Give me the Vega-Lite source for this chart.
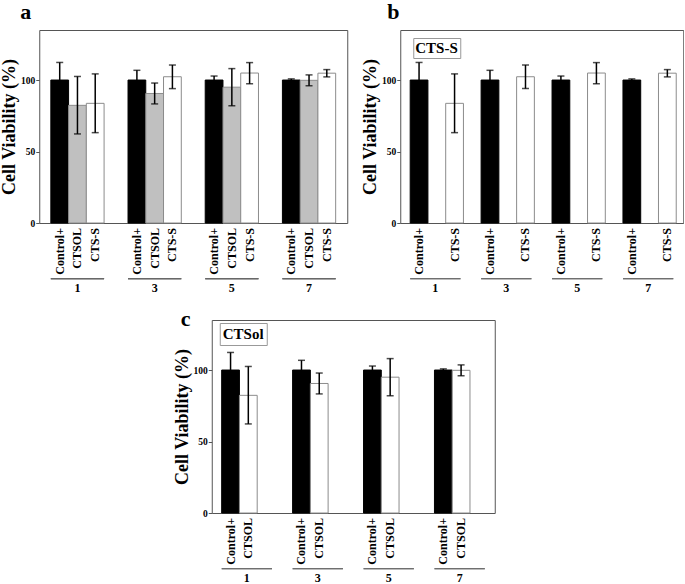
{
  "$schema": "https://vega.github.io/schema/vega-lite/v6.json",
  "padding": {"left": 0, "top": 0, "right": 0, "bottom": 0},
  "background": "white",
  "config": {
    "font": "Liberation Serif",
    "view": {"stroke": "#555555", "strokeWidth": 1},
    "axisY": {
      "tickColor": "#555555",
      "domain": false,
      "grid": false,
      "labelFont": "Liberation Serif",
      "labelFontWeight": "bold",
      "labelFontSize": 9.5,
      "labelColor": "black",
      "labelPadding": 1,
      "titleFont": "Liberation Serif",
      "titleFontWeight": "bold",
      "titleFontSize": 18,
      "titleColor": "black",
      "titlePadding": 2
    },
    "axisX": {
      "domain": false,
      "ticks": false,
      "grid": false,
      "labelAngle": 0,
      "labelFont": "Liberation Serif",
      "labelFontWeight": "bold",
      "labelFontSize": 12,
      "labelColor": "black",
      "labelPadding": 59,
      "title": null
    },
    "title": {"font": "Liberation Serif", "fontWeight": "bold", "fontSize": 22, "color": "black", "anchor": "start", "frame": "group"}
  },
  "datasets": {
    "cv": [
      {"group": "1", "series": "Control+", "mean": 100, "lower": 87.7, "upper": 112.3},
      {"group": "1", "series": "CTSOL", "mean": 82.3, "lower": 62.3, "upper": 102.5},
      {"group": "1", "series": "CTS-S", "mean": 83.7, "lower": 63.2, "upper": 104.3},
      {"group": "3", "series": "Control+", "mean": 100, "lower": 93.2, "upper": 106.8},
      {"group": "3", "series": "CTSOL", "mean": 90.6, "lower": 83.3, "upper": 97.9},
      {"group": "3", "series": "CTS-S", "mean": 102.3, "lower": 94.0, "upper": 110.5},
      {"group": "5", "series": "Control+", "mean": 100, "lower": 97.2, "upper": 102.8},
      {"group": "5", "series": "CTSOL", "mean": 95.0, "lower": 82.0, "upper": 108.0},
      {"group": "5", "series": "CTS-S", "mean": 104.9, "lower": 97.4, "upper": 112.2},
      {"group": "7", "series": "Control+", "mean": 100, "lower": 99.2, "upper": 100.8},
      {"group": "7", "series": "CTSOL", "mean": 99.8, "lower": 96.0, "upper": 103.6},
      {"group": "7", "series": "CTS-S", "mean": 104.8, "lower": 102.2, "upper": 107.3}
    ]
  },
  "vconcat": [
    {
      "hconcat": [
        {
          "width": 308,
          "height": 193,
          "title": {"text": "a", "dx": -19, "offset": 6},
          "data": {"name": "cv"},
          "encoding": {
            "x": {"field": "group", "type": "nominal", "scale": {"domain": ["1", "3", "5", "7"], "paddingInner": 0.31, "paddingOuter": 0.15}, "axis": {}},
            "xOffset": {"field": "series", "type": "nominal", "scale": {"domain": ["Control+", "CTSOL", "CTS-S"], "paddingInner": 0, "paddingOuter": 0}}
          },
          "layer": [
            {
              "mark": {"type": "bar", "strokeWidth": 1},
              "encoding": {
                "y": {"field": "mean", "type": "quantitative", "scale": {"domain": [0, 135], "nice": false}, "axis": {"title": "Cell Viability (%)", "values": [0, 25, 50, 75, 100, 125], "labelExpr": "(datum.value == 25 || datum.value == 75 || datum.value == 125) ? '' : datum.label", "labelOverlap": false, "tickSize": {"condition": {"test": "datum.value == 0 || datum.value == 50 || datum.value == 100", "value": 3.5}, "value": 2.5}}},
                "fill": {"field": "series", "type": "nominal", "scale": {"domain": ["Control+", "CTSOL", "CTS-S"], "range": ["#000000", "#c0c0c0", "#ffffff"]}, "legend": null},
                "stroke": {"field": "series", "type": "nominal", "scale": {"domain": ["Control+", "CTSOL", "CTS-S"], "range": ["#000000", "#8c8c8c", "#8c8c8c"]}, "legend": null}
              }
            },
            {
              "mark": {"type": "rule", "color": "black", "strokeWidth": 1.5},
              "encoding": {"y": {"field": "lower", "type": "quantitative"}, "y2": {"field": "upper"}}
            },
            {
              "mark": {"type": "tick", "color": "black", "thickness": 1.5, "size": 7},
              "encoding": {"y": {"field": "upper", "type": "quantitative"}}
            },
            {
              "mark": {"type": "tick", "color": "black", "thickness": 1.5, "size": 7},
              "encoding": {"y": {"field": "lower", "type": "quantitative"}}
            },
            {
              "mark": {"type": "text", "angle": 270, "align": "right", "baseline": "middle", "dx": -5, "font": "Liberation Serif", "fontWeight": "bold", "fontSize": 12, "color": "black"},
              "encoding": {"y": {"datum": 0}, "text": {"field": "series"}}
            },
            {
              "mark": {"type": "bar", "color": "#666666"},
              "encoding": {"xOffset": null, "y": {"datum": -38.6}, "y2": {"datum": -39.3}}
            }
          ]
        },
        {
          "width": 283,
          "height": 193,
          "title": {"text": "b", "dx": -13, "offset": 6},
          "data": {"name": "cv"},
          "transform": [{"filter": {"field": "series", "oneOf": ["Control+", "CTS-S"]}}],
          "encoding": {
            "x": {"field": "group", "type": "nominal", "scale": {"domain": ["1", "3", "5", "7"], "paddingInner": 0.29, "paddingOuter": 0.14}, "axis": {}},
            "xOffset": {"field": "series", "type": "nominal", "scale": {"domain": ["Control+", "CTS-S"], "paddingInner": 0, "paddingOuter": 0}}
          },
          "layer": [
            {
              "mark": {"type": "bar", "strokeWidth": 1},
              "encoding": {
                "y": {"field": "mean", "type": "quantitative", "scale": {"domain": [0, 135], "nice": false}, "axis": {"title": "Cell Viability (%)", "values": [0, 25, 50, 75, 100, 125], "labelExpr": "(datum.value == 25 || datum.value == 75 || datum.value == 125) ? '' : datum.label", "labelOverlap": false, "tickSize": {"condition": {"test": "datum.value == 0 || datum.value == 50 || datum.value == 100", "value": 3.5}, "value": 2.5}}},
                "fill": {"field": "series", "type": "nominal", "scale": {"domain": ["Control+", "CTS-S"], "range": ["#000000", "#ffffff"]}, "legend": null},
                "stroke": {"field": "series", "type": "nominal", "scale": {"domain": ["Control+", "CTS-S"], "range": ["#000000", "#8c8c8c"]}, "legend": null}
              }
            },
            {
              "mark": {"type": "rule", "color": "black", "strokeWidth": 1.5},
              "encoding": {"y": {"field": "lower", "type": "quantitative"}, "y2": {"field": "upper"}}
            },
            {
              "mark": {"type": "tick", "color": "black", "thickness": 1.5, "size": 7},
              "encoding": {"y": {"field": "upper", "type": "quantitative"}}
            },
            {
              "mark": {"type": "tick", "color": "black", "thickness": 1.5, "size": 7},
              "encoding": {"y": {"field": "lower", "type": "quantitative"}}
            },
            {
              "mark": {"type": "text", "angle": 270, "align": "right", "baseline": "middle", "dx": -5, "font": "Liberation Serif", "fontWeight": "bold", "fontSize": 12, "color": "black"},
              "encoding": {"y": {"datum": 0}, "text": {"field": "series"}}
            },
            {
              "mark": {"type": "bar", "color": "#666666"},
              "encoding": {"xOffset": null, "y": {"datum": -38.6}, "y2": {"datum": -39.3}}
            },
            {
              "mark": {"type": "point", "opacity": 0, "size": 0},
              "encoding": {
                "xOffset": null,
                "shape": {"datum": "CTS-S", "legend": {"title": null, "orient": "none", "legendX": 13, "legendY": 8, "padding": 2, "strokeColor": "#999999", "fillColor": "#ffffff", "symbolSize": 0, "symbolOpacity": 0, "symbolStrokeWidth": 0, "labelOffset": -15, "labelFont": "Liberation Serif", "labelFontWeight": "bold", "labelFontSize": 15, "labelColor": "black"}}
              }
            }
          ]
        }
      ],
      "spacing": 12,
      "resolve": {"scale": {"fill": "independent", "stroke": "independent", "shape": "independent"}, "legend": {"shape": "independent"}}
    },
    {
      "width": 283,
      "height": 193,
      "title": {"text": "c", "dx": -31, "offset": 0, "dy": 11},
      "data": {"name": "cv"},
      "transform": [{"filter": {"field": "series", "oneOf": ["Control+", "CTSOL"]}}],
      "encoding": {
        "x": {"field": "group", "type": "nominal", "scale": {"domain": ["1", "3", "5", "7"], "paddingInner": 0.29, "paddingOuter": 0.14}, "axis": {}},
        "xOffset": {"field": "series", "type": "nominal", "scale": {"domain": ["Control+", "CTSOL"], "paddingInner": 0, "paddingOuter": 0}}
      },
      "layer": [
        {
          "layer": [
            {
              "mark": {"type": "bar", "strokeWidth": 1},
              "encoding": {
                "y": {"field": "mean", "type": "quantitative", "scale": {"domain": [0, 135], "nice": false}, "axis": {"title": "Cell Viability (%)", "values": [0, 25, 50, 75, 100, 125], "labelExpr": "(datum.value == 25 || datum.value == 75 || datum.value == 125) ? '' : datum.label", "labelOverlap": false, "tickSize": {"condition": {"test": "datum.value == 0 || datum.value == 50 || datum.value == 100", "value": 3.5}, "value": 2.5}}},
                "fill": {"field": "series", "type": "nominal", "scale": {"domain": ["Control+", "CTSOL"], "range": ["#000000", "#ffffff"]}, "legend": null},
                "stroke": {"field": "series", "type": "nominal", "scale": {"domain": ["Control+", "CTSOL"], "range": ["#000000", "#8c8c8c"]}, "legend": null}
              }
            },
            {
              "mark": {"type": "rule", "color": "black", "strokeWidth": 1.5},
              "encoding": {"y": {"field": "lower", "type": "quantitative"}, "y2": {"field": "upper"}}
            },
            {
              "mark": {"type": "tick", "color": "black", "thickness": 1.5, "size": 7},
              "encoding": {"y": {"field": "upper", "type": "quantitative"}}
            },
            {
              "mark": {"type": "tick", "color": "black", "thickness": 1.5, "size": 7},
              "encoding": {"y": {"field": "lower", "type": "quantitative"}}
            },
            {
              "mark": {"type": "text", "angle": 270, "align": "right", "baseline": "middle", "dx": -5, "font": "Liberation Serif", "fontWeight": "bold", "fontSize": 12, "color": "black"},
              "encoding": {"y": {"datum": 0}, "text": {"field": "series"}}
            },
            {
              "mark": {"type": "bar", "color": "#666666"},
              "encoding": {"xOffset": null, "y": {"datum": -38.6}, "y2": {"datum": -39.3}}
            }
          ]
        },
        {
          "mark": {"type": "point", "opacity": 0, "size": 0},
          "encoding": {
            "xOffset": null,
            "y": {"datum": 0, "type": "quantitative", "scale": {"domain": [0, 135], "nice": false}, "axis": {"orient": "right", "labels": false, "ticks": false, "domain": false, "grid": false, "title": null, "minExtent": 16, "maxExtent": 16}},
            "shape": {"datum": "CTSol", "legend": {"title": null, "orient": "none", "legendX": 8, "legendY": 3, "padding": 3, "strokeColor": "#999999", "fillColor": "#ffffff", "symbolSize": 0, "symbolOpacity": 0, "symbolStrokeWidth": 0, "labelOffset": -15, "labelFont": "Liberation Serif", "labelFontWeight": "bold", "labelFontSize": 15, "labelColor": "black"}}
          }
        }
      ],
      "resolve": {"scale": {"y": "independent"}}
    }
  ],
  "spacing": 13,
  "center": true,
  "resolve": {"scale": {"fill": "independent", "stroke": "independent", "shape": "independent"}, "legend": {"shape": "independent"}}
}
